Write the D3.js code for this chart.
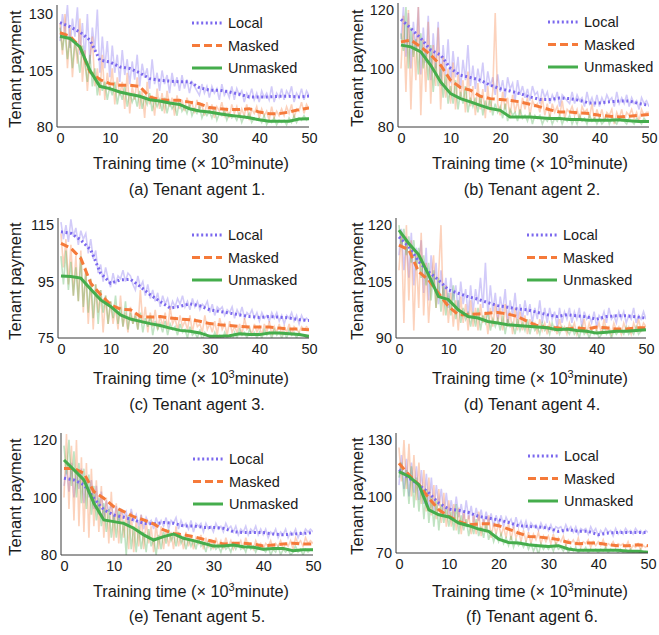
<!doctype html>
<html lang="en">
<head>
<meta charset="utf-8">
<title>Tenant payment</title>
<script src="https://d3js.org/d3.v7.min.js"></script>
<style>
    body { margin: 0; background: #fff; }
    svg text { font-family: "Liberation Sans", Arial, sans-serif; fill: #1a1a1a; }
    .axis path { stroke: #3a3a3a; stroke-width: 1; }
</style>
</head>
<body>
<svg id="chart" width="659" height="635"></svg>
<script>
// x grids (x 10^3 minute)
var smoothX = [0,2,4,6,8,10,12,14,16,18,20,22,24,26,28,30,32,34,36,38,40,42,44,46,48,50];
var rawX = d3.range(0, 50.5, 0.5);   // raw samples every 0.5
var xTicks = [0,10,20,30,40,50];

var seriesNames = ["Local", "Masked", "Unmasked"];
var captions = ["(a) Tenant agent 1.", "(b) Tenant agent 2.", "(c) Tenant agent 3.",
                "(d) Tenant agent 4.", "(e) Tenant agent 5.", "(f) Tenant agent 6."];

// y tick labels
var yTicksA = [80,105,130];
var yTicksB = [80,100,120];
var yTicksC = [75,95,115];
var yTicksD = [90,105,120];
var yTicksE = [80,100,120];
var yTicksF = [70,100,130];

// ---- agent 1
var localA    = [126.2,124.4,122,118.5,109.6,108.8,106.6,105.9,104,101.4,100.7,100.3,100,100,97.4,96.3,96.3,95.5,94.5,93.3,93.3,93.3,93.6,93.6,93.3,93.7];
var maskedA   = [121.7,120.2,115.5,104.4,101,99.2,98.5,98.5,98,93.3,92.1,91.8,91.8,91,90.3,88.6,88.1,87.7,87.7,88.1,86.6,85.9,85.9,86.6,87.7,88.4];
var unmaskedA = [120.2,119.2,115.5,105.1,98,97,95.5,94.5,93.6,92.1,91.5,90.6,90,88.1,87.1,86.6,85.9,85.2,84.7,84.1,83.2,82.6,82.6,82.6,83.5,83.7];
var localRawA = [
    118,130,122,134,115,128,120,133,112,126, 110,130,108,124,114,132,104,120,106,118,
    102,116,104,112,100,114,103,110,99,109, 101,112,98,108,102,106,97,110,99,104,
    96,105,99,103,95,104,98,102,96,103, 97,101,95,100,98,96,94,99,95,98,
    93,98,95,97,92,99,94,96,93,98, 92,97,94,96,91,95,93,97,92,95,
    91,96,93,95,92,98,91,95,93,97, 92,96,94,98,91,95,93,97,92,96, 94];
var maskedRawA = [
    126,112,130,106,124,102,118,108,128,100, 114,96,110,120,98,106,94,112,92,104,
    96,106,90,102,94,100,88,104,86,98, 92,102,88,96,84,100,90,94,85,97,
    88,95,86,96,89,93,85,94,88,92, 87,93,89,91,86,92,88,90,85,91,
    86,90,84,89,87,91,85,88,84,90, 86,89,84,88,85,90,83,88,86,89,
    84,88,85,87,83,89,84,87,85,88, 85,89,86,90,84,88,87,91,86,90, 88];
var unmaskedRawA = [
    124,114,122,110,120,106,118,112,104,116, 108,100,112,98,106,94,102,96,100,92,
    98,94,100,90,96,92,98,89,95,91, 94,89,96,88,93,90,95,87,92,89,
    92,87,93,86,91,88,90,85,92,87, 89,86,90,85,88,86,89,84,87,85,
    87,84,88,83,86,85,87,83,86,84, 85,83,86,82,85,84,86,82,84,83,
    84,82,85,81,83,82,84,81,83,82, 83,81,84,82,85,82,84,83,85,83, 84];

// ---- agent 2
var localB    = [116.8,113.7,110.3,106.3,104.6,100,97.7,96.9,96,94.3,93.1,92.3,91.4,90.3,89.4,89.4,89.9,89.7,89.1,88.2,88.2,88.6,88.9,88.9,88,87.4];
var maskedB   = [109.1,109.7,107.4,104.6,101.1,96,93.5,92.6,90.5,89.7,89.4,89.1,88.6,87.8,86.9,85.9,85.1,85.1,84.8,84.6,84,83.7,83.4,83.7,84,84.3];
var unmaskedB = [108,107.4,105.7,101.1,95.4,91.4,89.7,88.6,87.4,86.3,85.7,83.4,83.4,83.4,83.2,82.9,82.9,82.6,82.6,82.3,82.3,82.3,82.5,82.1,81.9,81.9];
var localRawB = [
    110,121,104,119,100,116,106,121,98,114, 102,118,96,112,100,116,94,108,98,110,
    95,106,97,104,93,103,96,108,94,101, 93,100,95,102,92,99,94,97,91,98,
    92,96,90,97,93,95,89,96,91,94, 90,93,89,94,91,92,88,93,90,92,
    88,91,89,92,87,91,90,89,88,92, 88,91,89,90,87,92,88,90,87,91,
    87,90,88,91,89,90,87,92,88,90, 88,91,87,90,88,89,86,90,88,89, 87];
var maskedRawB = [
    100,118,92,120,86,112,96,121,84,110, 92,116,88,108,94,114,86,104,90,100,
    88,102,86,98,90,96,85,99,87,94, 84,95,86,93,83,94,85,92,119,88,
    84,92,86,90,83,91,85,89,84,90, 86,90,84,89,87,88,85,90,84,88,
    83,88,85,87,84,89,83,86,85,87, 84,86,82,87,85,86,83,88,82,86,
    83,86,82,85,84,86,81,85,83,86, 82,85,84,86,83,85,82,86,84,85, 85];
var unmaskedRawB = [
    112,106,121,100,114,104,110,98,112,100, 106,96,108,92,102,94,100,90,98,88,
    94,88,96,86,92,88,94,85,90,87, 90,85,91,84,89,86,90,84,88,85,
    87,83,88,82,86,84,85,82,86,83, 84,82,85,81,84,83,84,81,83,82,
    84,81,83,82,84,81,83,82,84,81, 83,81,84,82,83,81,84,82,83,81,
    83,81,82,84,81,83,82,81,83,82, 82,81,83,82,81,83,82,81,83,82, 82];

// ---- agent 3
var localC    = [112.6,112.1,109.7,106.2,97.9,94.4,95.6,95.8,93.2,90.3,87.9,85.6,86.2,87.1,86.4,85,84.4,83.8,83.2,82.6,82.3,82.6,82.4,82.1,81.5,81.2];
var maskedC   = [108.5,106.8,103.2,94.4,90.3,86.8,85.2,85,82.6,82.4,82.6,82.1,81.7,81.5,80.9,80.1,79.7,79.4,79.1,78.9,78.9,78.9,78.5,78.2,78.2,77.9];
var unmaskedC = [97,96.8,96.2,92.3,88.5,86.2,83.2,81.7,80.9,80.1,79.4,78.5,77.7,77.4,76.8,75.6,75.6,75.8,76.5,76.2,76.2,76.8,76.8,76.5,76.2,75.6];
var localRawC = [
    116,110,115,109,117,111,114,108,113,110, 112,105,110,103,106,98,101,95,100,96,
    93,98,94,97,96,99,95,98,97,94, 92,97,93,95,90,94,89,92,88,91,
    86,90,87,89,85,88,86,89,87,90, 86,88,85,89,86,88,85,87,86,88,
    84,87,83,86,85,86,83,85,84,86, 82,85,83,86,82,84,83,85,82,84,
    81,84,82,83,81,84,82,84,81,83, 80,83,82,84,81,83,80,83,81,82, 81];
var maskedRawC = [
    112,100,110,94,108,90,104,88,106,84, 100,80,96,78,94,84,92,77,90,80,
    88,80,86,78,90,79,84,77,86,80, 84,78,92,80,86,77,84,79,85,78,
    83,79,84,78,86,80,82,78,83,79, 81,78,83,77,82,79,80,77,83,78,
    80,77,81,76,82,78,80,76,81,77, 79,77,80,76,82,78,79,76,80,77,
    79,76,80,77,81,76,79,77,80,76, 79,77,80,76,79,78,77,79,78,79, 78];
var unmaskedRawC = [
    104,94,106,92,102,90,100,88,104,86, 98,84,96,82,94,80,92,84,90,80,
    88,82,90,80,86,79,88,78,84,80, 83,78,84,77,82,79,83,76,81,78,
    80,77,81,76,80,78,79,76,80,77, 78,75,79,76,77,75,78,74,77,76,
    76,74,77,75,76,74,77,75,76,74, 77,75,78,76,77,75,78,76,77,75,
    77,75,78,76,77,75,78,76,77,75, 77,75,78,76,77,75,77,76,76,75, 76];

// ---- agent 4
var localD    = [116.9,114.3,110.3,107.6,105.4,102.8,101.9,101,100.3,99.4,98.6,98.2,97.7,97.5,96.8,96.2,95.7,96.2,95.9,95.6,95,95.7,95.9,95.9,95.6,95.3];
var maskedD   = [114.7,113.4,107.6,105.4,101.9,98.4,96.2,96.2,96.4,96.6,96.8,96.4,95.7,94.4,93.3,92.7,92.7,92.4,92.7,92.4,92.9,92.7,92.4,92.4,92.7,92.7];
var unmaskedD = [118.7,115.1,112.1,106.8,101,100.2,97.5,95.7,95.3,94.4,94,93.5,93.3,93.1,92.9,92.7,92.2,92.4,92,91.8,91.3,91.5,91.8,91.8,92,92.2];
var localRawD = [
    112,119,108,117,106,118,104,114,110,116, 102,114,100,112,104,110,99,108,101,106,
    98,106,100,104,97,105,99,103,96,104, 97,103,99,106,98,110,96,104,97,102,
    95,101,97,103,94,100,96,102,95,99, 95,100,96,99,94,98,95,100,94,98,
    94,98,95,97,93,98,94,97,95,98, 94,97,95,98,93,97,95,96,94,97,
    93,96,95,97,94,98,95,96,94,97, 95,97,94,96,95,98,94,96,95,97, 95];
var maskedRawD = [
    108,118,94,120,100,116,92,112,98,118, 96,110,94,104,112,98,106,120,96,104,
    94,102,93,100,92,101,94,99,92,100, 93,98,92,99,94,97,91,98,93,99,
    94,98,92,99,93,97,91,98,92,97, 92,96,91,95,93,94,91,95,92,94,
    91,94,92,93,91,95,92,93,91,94, 92,94,91,93,92,95,91,94,92,93,
    92,94,91,95,92,93,91,94,92,93, 91,94,92,93,91,94,92,95,92,94, 93];
var unmaskedRawD = [
    120,114,119,112,117,110,116,108,114,106, 112,104,110,100,108,98,106,97,104,96,
    102,96,104,95,100,94,98,95,97,93, 97,93,98,92,96,94,97,92,95,93,
    95,92,96,91,95,93,94,91,95,92, 94,92,95,91,94,92,93,91,94,92,
    93,91,94,92,93,91,93,92,92,91, 93,91,92,90,93,91,92,90,92,91,
    92,90,91,93,91,92,90,92,91,92, 92,91,93,91,92,91,93,91,92,92, 92];

// ---- agent 5
var localE    = [106.7,106.1,104.4,99.7,95.7,93.9,93.1,92.2,91,90.8,91.3,91,90.1,90.1,89.6,89.6,89.3,88.1,87.8,87.8,87.8,87.3,87,87.3,87.5,87.8];
var maskedE   = [110.1,110.1,108.4,102,99.7,96.8,95.1,93.3,92.2,90.8,88.7,87.5,87,86.4,85.5,84.7,83.8,84.1,84.1,83.8,83.1,83.5,83.8,84.1,83.8,83.8];
var unmaskedE = [113,109.6,106.1,98,92.2,91.6,91,89.3,87,85.2,86.4,87.3,85.8,85,84.1,83.1,83.1,83.5,82.9,82.7,82,82.3,82.3,81.5,81.8,81.8];
var localRawE = [
    104,110,102,112,100,108,103,110,98,106, 100,106,96,104,94,102,93,99,95,98,
    92,97,91,96,93,95,90,96,92,94, 90,94,89,93,91,92,89,93,90,92,
    90,93,89,92,91,93,89,92,90,91, 89,92,88,91,90,91,88,91,89,90,
    88,91,89,90,88,91,89,90,88,90, 87,89,88,90,87,89,88,90,87,89,
    87,89,86,88,87,89,86,88,87,89, 86,88,87,89,86,88,87,89,88,89, 88];
var maskedRawE = [
    100,122,96,118,92,120,90,114,88,112, 86,110,90,106,88,104,86,100,84,102,
    85,98,84,96,86,94,82,95,81,92, 83,94,82,92,84,90,81,91,82,90,
    82,89,83,88,82,90,83,87,82,88, 83,87,82,86,84,87,82,86,83,85,
    82,86,83,85,82,86,83,85,82,84, 83,85,82,86,83,84,82,85,83,84,
    82,84,83,85,82,84,83,85,82,84, 83,85,82,86,84,85,83,86,84,85, 84];
var unmaskedRawE = [
    118,108,120,104,116,100,112,98,110,96, 108,94,104,92,100,90,98,88,96,86,
    94,86,96,84,92,80,94,82,90,81, 90,82,88,81,89,83,86,80,87,82,
    88,84,89,85,87,83,88,84,86,82, 86,83,85,82,86,83,84,81,85,82,
    84,82,83,81,84,82,83,81,84,82, 84,82,83,81,84,82,83,81,83,82,
    82,81,83,80,82,81,83,80,82,81, 82,80,81,83,81,82,80,82,81,82, 82];

// ---- agent 6
var localF    = [114.1,109.7,106.2,101.8,96.5,93.3,92.6,91.5,89.4,88.5,87.6,86.2,84.5,84.1,83.8,83.2,81.5,82.4,81.5,81.5,79.7,80.6,80.9,80.9,80.9,80.9];
var maskedF   = [117.6,111.5,106.2,99.1,92.9,89.4,86.8,85,85.5,85.5,84.5,82.7,80.6,78.8,78.5,77.9,77.1,75.6,74.9,75.3,75.3,74.4,73.9,73.9,74.4,73.9];
var unmaskedF = [113.2,110.6,106.2,92.9,90.3,89.1,85.9,84.5,82.7,81.5,77.4,75.6,75.3,74.4,73.9,73.5,73.9,72.1,71.4,71.4,71.4,71.4,71.4,70.9,70.9,70.3];
var localRawF = [
    106,122,104,120,100,118,102,116,98,114, 96,112,94,110,92,106,95,104,90,102,
    90,98,88,100,89,96,87,98,88,95, 86,94,87,93,85,92,86,91,84,90,
    85,90,84,89,86,88,83,89,84,87, 83,87,82,86,84,85,82,86,83,85,
    82,85,81,84,83,84,81,85,82,84, 81,84,80,83,82,83,80,84,81,83,
    79,82,80,83,81,82,79,83,80,82, 80,83,81,82,80,83,81,82,80,82, 81];
var maskedRawF = [
    126,108,130,104,128,100,122,98,118,96, 114,92,110,90,106,88,104,86,102,84,
    98,84,96,82,94,80,92,84,90,80, 90,80,92,79,88,81,90,78,86,80,
    86,79,84,78,86,77,84,78,82,76, 82,76,81,75,80,77,81,75,79,76,
    79,75,80,74,78,76,79,74,77,75, 77,74,78,73,76,75,77,73,76,74,
    76,74,77,73,75,74,76,73,75,74, 75,73,76,72,74,73,75,72,74,73, 74];
var unmaskedRawF = [
    110,118,100,114,96,116,94,110,92,106, 88,104,86,100,84,98,82,96,86,94,
    84,92,82,96,80,90,82,88,79,86, 80,88,79,84,78,86,77,82,76,80,
    76,80,75,78,74,79,73,77,74,76, 73,76,72,75,71,74,69,75,72,74,
    72,74,71,75,72,73,71,74,70,73, 71,73,70,72,71,73,70,72,71,72,
    70,72,71,73,70,72,71,72,70,72, 70,72,71,72,70,71,70,72,70,71, 71];

var colors = ["#7b68ee", "#f57a3a", "#45ad4c"];
var dashes = ["2,2.6", "8,4", null];

// layout of the six panels (pixels)
var panels = [
    { smooth: [localA, maskedA, unmaskedA], raw: [localRawA, maskedRawA, unmaskedRawA], yTicks: yTicksA, yTop: 134,
      left: 57, right: 309, top: 5, bottom: 127, legX: 192, legY: 23, col: 0, titleY: 169, capY: 195 },
    { smooth: [localB, maskedB, unmaskedB], raw: [localRawB, maskedRawB, unmaskedRawB], yTicks: yTicksB, yTop: 122.4,
      left: 398, right: 649, top: 3, bottom: 127, legX: 548, legY: 22, col: 1, titleY: 169, capY: 195 },
    { smooth: [localC, maskedC, unmaskedC], raw: [localRawC, maskedRawC, unmaskedRawC], yTicks: yTicksC, yTop: 117.5,
      left: 58, right: 309, top: 218, bottom: 338, legX: 192, legY: 235, col: 0, titleY: 384, capY: 410 },
    { smooth: [localD, maskedD, unmaskedD], raw: [localRawD, maskedRawD, unmaskedRawD], yTicks: yTicksD, yTop: 121.9,
      left: 396, right: 646, top: 218, bottom: 338, legX: 527, legY: 235, col: 1, titleY: 384, capY: 410 },
    { smooth: [localE, maskedE, unmaskedE], raw: [localRawE, maskedRawE, unmaskedRawE], yTicks: yTicksE, yTop: 122.4,
      left: 61, right: 313, top: 433, bottom: 555, legX: 193, legY: 459, col: 0, titleY: 597, capY: 622 },
    { smooth: [localF, maskedF, unmaskedF], raw: [localRawF, maskedRawF, unmaskedRawF], yTicks: yTicksF, yTop: 133.7,
      left: 396, right: 648, top: 433, bottom: 553, legX: 528, legY: 456, col: 1, titleY: 597, capY: 622 }
];
var titleXs = [191, 530];
var captionXs = [197, 532];

var svg = d3.select("#chart");

panels.forEach(function(p, pi) {
    var x = d3.scaleLinear().domain([-0.6, 50]).range([p.left, p.right]);
    var y = d3.scaleLinear().domain([p.yTicks[0], p.yTop]).range([p.bottom, p.top]);

    var g = svg.append("g");

    g.append("clipPath").attr("id", "clip" + pi)
        .append("rect")
        .attr("x", p.left).attr("y", p.top)
        .attr("width", p.right - p.left).attr("height", p.bottom - p.top);

    var plot = g.append("g").attr("clip-path", "url(#clip" + pi + ")");

    // faint raw curves
    p.raw.forEach(function(vals, si) {
        var line = d3.line()
            .x(function(d, i) { return x(rawX[i]); })
            .y(function(d) { return y(d); });
        plot.append("path")
            .datum(vals)
            .attr("d", line)
            .attr("fill", "none")
            .attr("stroke", colors[si])
            .attr("stroke-opacity", 0.34)
            .attr("stroke-width", 1.6);
    });

    // smoothed curves
    p.smooth.forEach(function(vals, si) {
        var line = d3.line()
            .x(function(d, i) { return x(smoothX[i]); })
            .y(function(d) { return y(d); });
        plot.append("path")
            .datum(vals)
            .attr("d", line)
            .attr("fill", "none")
            .attr("stroke", colors[si])
            .attr("stroke-width", 3)
            .attr("stroke-dasharray", dashes[si]);
    });

    // axes
    var xAxis = d3.axisBottom(x).tickValues(xTicks).tickSize(0).tickPadding(6);
    g.append("g").attr("class", "axis")
        .attr("transform", "translate(0," + p.bottom + ")")
        .call(xAxis)
        .call(function(s) { s.select(".domain").attr("d", "M" + p.left + ",0H" + p.right); });

    var yAxis = d3.axisLeft(y).tickValues(p.yTicks).tickSize(0).tickPadding(4);
    g.append("g").attr("class", "axis")
        .attr("transform", "translate(" + p.left + ",0)")
        .call(yAxis)
        .call(function(s) { s.select(".domain").attr("d", "M0," + p.top + "V" + p.bottom); });

    g.selectAll(".axis text")
        .attr("font-size", 14.5)
        .attr("font-family", "'Liberation Sans', Arial, sans-serif")
        .attr("fill", "#1a1a1a");

    // y label
    var yMid = (p.top + p.bottom) / 2 + 3;
    var yLabX = p.col == 0 ? 21 : 363;
    g.append("text")
        .attr("transform", "translate(" + yLabX + "," + yMid + ") rotate(-90)")
        .attr("text-anchor", "middle")
        .attr("font-size", 16.5)
        .text("Tenant payment");

    // x title
    var t = g.append("text")
        .attr("x", titleXs[p.col])
        .attr("y", p.titleY)
        .attr("text-anchor", "middle")
        .attr("font-size", 16.3);
    t.append("tspan").text("Training time (\u00d7 10");
    t.append("tspan").attr("font-size", 11).attr("dy", -6).text("3");
    t.append("tspan").attr("dy", 6).text("minute)");

    // caption
    g.append("text")
        .attr("x", captionXs[p.col])
        .attr("y", p.capY)
        .attr("text-anchor", "middle")
        .attr("font-size", 16.3)
        .text(captions[pi]);

    // legend
    seriesNames.forEach(function(name, si) {
        var ly = p.legY + si * 22.5;
        g.append("line")
            .attr("x1", p.legX).attr("x2", p.legX + 30)
            .attr("y1", ly).attr("y2", ly)
            .attr("stroke", colors[si])
            .attr("stroke-width", 3)
            .attr("stroke-dasharray", dashes[si]);
        g.append("text")
            .attr("x", p.legX + 36)
            .attr("y", ly + 5)
            .attr("font-size", 14.5)
            .text(name);
    });
});
</script>
</body>
</html>
